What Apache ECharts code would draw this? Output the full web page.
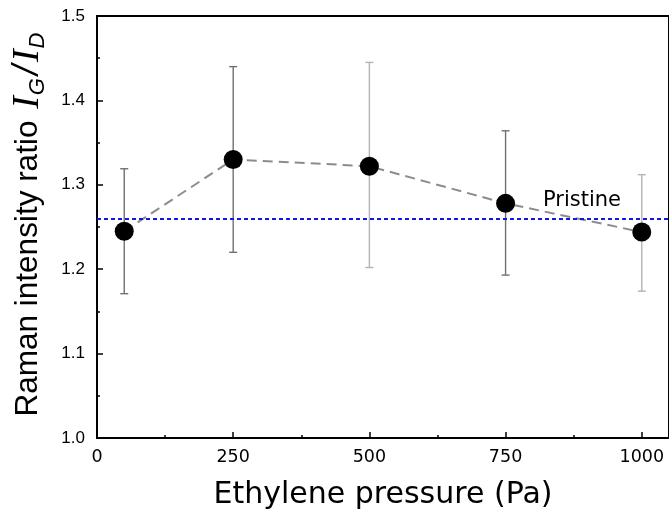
<!DOCTYPE html>
<html>
<head>
<meta charset="utf-8">
<script src="https://cdn.jsdelivr.net/npm/echarts@6/dist/echarts.min.js"></script>
<style>
  html, body { margin: 0; padding: 0; background: #fff; }
  #chart { width: 669px; height: 516px; }
</style>
</head>
<body>
<div id="chart"></div>
<script>
// Raman G/D intensity ratio versus ethylene pressure
const pressure = [50, 250, 500, 750, 1000];          // Pa
const ratio    = [1.245, 1.330, 1.322, 1.278, 1.244]; // I_G / I_D
const errLow   = [1.171, 1.220, 1.202, 1.193, 1.174];
const errHigh  = [1.319, 1.440, 1.445, 1.364, 1.312];
const pristineRatio = 1.26;

const xMajorTicks = [0, 250, 500, 750, 1000];
const xMinorTicks = [125, 375, 625, 875];

// error bar stroke colours, one per point
const errColors = ['#707070', '#707070', '#b4b4b4', '#707070', '#b4b4b4'];

const chart = echarts.init(document.getElementById('chart'), null, { renderer: 'canvas' });

const sans = 'DejaVu Sans';
const arial = 'Liberation Sans';

const option = {
  backgroundColor: '#fff',
  animation: false,
  grid: {
    left: 97, top: 16, width: 574, height: 422,
    show: true, borderColor: '#000', borderWidth: 2,
    backgroundColor: 'transparent'
  },
  xAxis: [
    {
      type: 'value', min: 0, max: 1050,
      name: 'Ethylene pressure (Pa)',
      nameLocation: 'middle', nameGap: 42,
      nameTextStyle: { fontFamily: sans, fontSize: 30, color: '#000' },
      axisLine: { show: true, lineStyle: { color: '#000', width: 2 } },
      axisTick: { show: true, inside: true, length: 6, customValues: xMajorTicks,
                  lineStyle: { color: '#000', width: 1.5 } },
      axisLabel: { customValues: xMajorTicks, margin: 10,
                   fontFamily: sans, fontSize: 17.5, color: '#000',
                   formatter: v => String(v) },
      splitLine: { show: false }
    },
    {
      // minor ticks along the bottom edge
      type: 'value', min: 0, max: 1050, position: 'bottom',
      axisLine: { show: false },
      axisTick: { show: true, inside: true, length: 3, customValues: xMinorTicks,
                  lineStyle: { color: '#000', width: 1.5 } },
      axisLabel: { show: false },
      splitLine: { show: false }
    }
  ],
  yAxis: {
    type: 'value', min: 1.0, max: 1.5, interval: 0.1,
    name: '{a|Raman intensity ratio }{i|I}{s|G}{sl|/}{i|I}{s|D}',
    nameLocation: 'middle', nameGap: 48,
    nameTextStyle: {
      color: '#000', fontFamily: arial, fontSize: 31.5,
      rich: {
        a:  { fontFamily: arial, fontSize: 31.5, color: '#000', lineHeight: 42, padding: [0, 0, 0, 8] },
        i:  { fontFamily: 'Liberation Serif', fontStyle: 'italic', fontSize: 38, color: '#000', lineHeight: 42, padding: [0, 1, 0, 3] },
        s:  { fontFamily: arial, fontStyle: 'italic', fontSize: 22, color: '#000', verticalAlign: 'bottom', lineHeight: 19, padding: [0, 3, 0, 0] },
        sl: { fontFamily: arial, fontStyle: 'italic', fontSize: 36, fontWeight: 'lighter', color: '#000', lineHeight: 42 }
      }
    },
    axisLine: { show: true, lineStyle: { color: '#000', width: 2 } },
    axisTick: { show: true, inside: true, length: 6, lineStyle: { color: '#000', width: 1.5 } },
    minorTick: { show: true, splitNumber: 2, length: 3, lineStyle: { color: '#000', width: 1.5 } },
    axisLabel: { margin: 12, fontFamily: arial, fontSize: 17, color: '#000',
                 formatter: v => v.toFixed(1) },
    splitLine: { show: false }
  },
  series: [
    {
      // vertical error bars with short caps
      type: 'custom',
      data: pressure.map((p, i) => [p, errLow[i], errHigh[i]]),
      encode: { x: 0, y: [1, 2] },
      z: 2,
      renderItem: (params, api) => {
        const x = api.value(0);
        const lo = api.coord([x, api.value(1)]);
        const hi = api.coord([x, api.value(2)]);
        const stroke = errColors[params.dataIndex];
        const cap = 4;
        const style = { stroke: stroke, lineWidth: 1.4 };
        return {
          type: 'group',
          children: [
            { type: 'line', shape: { x1: lo[0], y1: lo[1], x2: hi[0], y2: hi[1] }, style },
            { type: 'line', shape: { x1: lo[0] - cap, y1: lo[1], x2: lo[0] + cap, y2: lo[1] }, style },
            { type: 'line', shape: { x1: hi[0] - cap, y1: hi[1], x2: hi[0] + cap, y2: hi[1] }, style }
          ]
        };
      }
    },
    {
      // pristine reference level
      type: 'line',
      data: [],
      z: 3,
      markLine: {
        silent: true,
        symbol: 'none',
        data: [{ yAxis: pristineRatio }],
        lineStyle: { color: '#1414e6', type: [4, 3], width: 2 },
        label: {
          show: true, position: 'insideEndTop', formatter: 'Pristine',
          distance: [48, 8],
          fontFamily: sans, fontSize: 21, color: '#000'
        }
      }
    },
    {
      type: 'line',
      data: pressure.map((p, i) => [p, ratio[i]]),
      z: 4,
      symbol: 'circle',
      symbolSize: 19,
      itemStyle: { color: '#000' },
      lineStyle: { color: '#8c8c8c', width: 2, type: [10, 6] }
    }
  ]
};

chart.setOption(option);
</script>
</body>
</html>
